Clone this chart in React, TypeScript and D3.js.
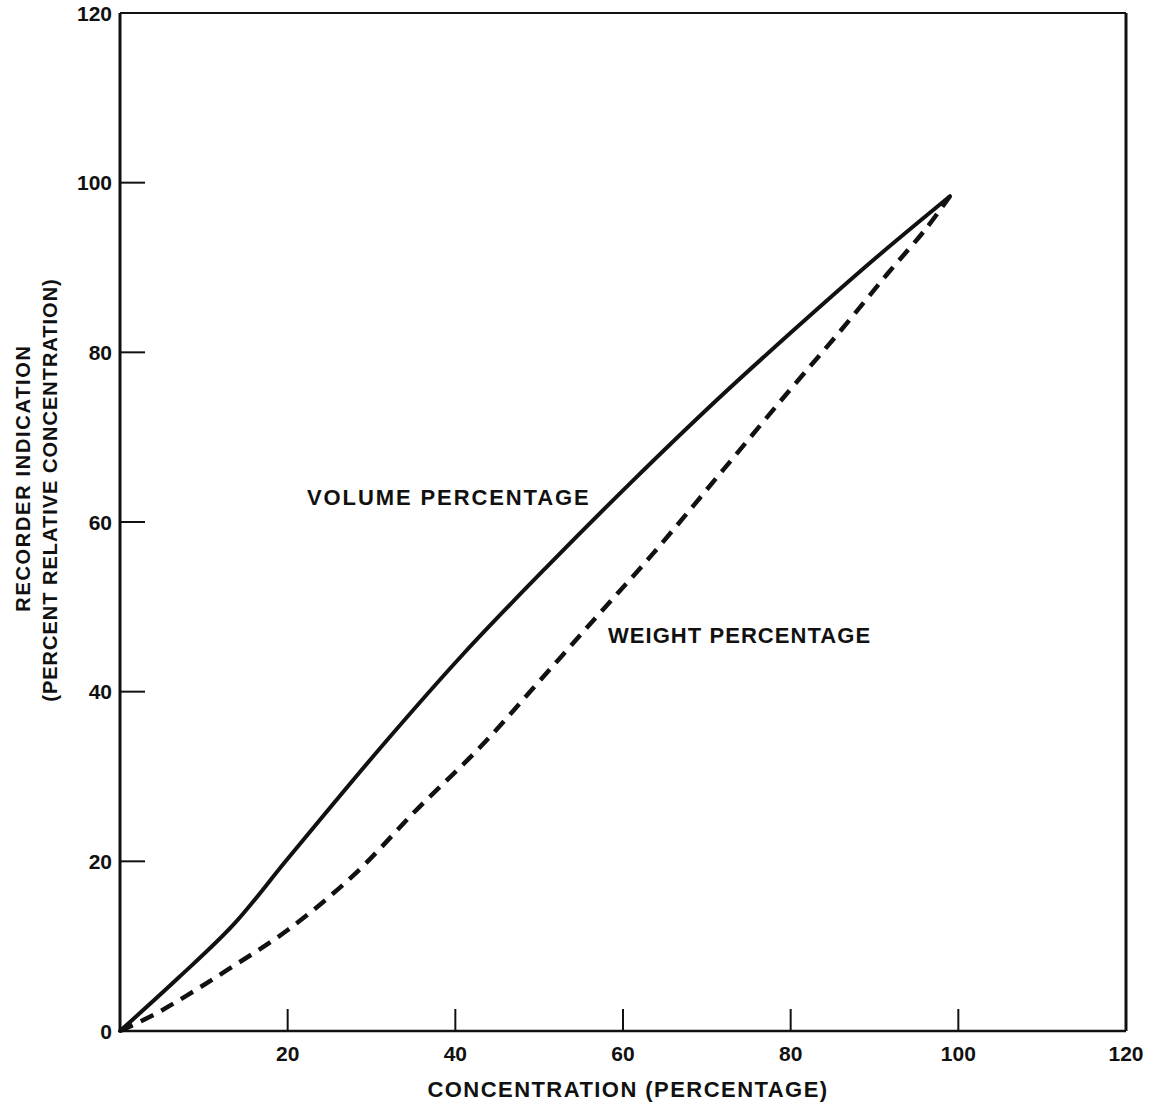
import React from "react";
import * as d3 from "d3";

const volumeX = [0, 7, 13.5, 20, 31, 41, 51, 61, 71, 80, 90, 99];
const volumeY = [0, 6.3, 12.5, 20.3, 33.3, 44.5, 54.8, 64.7, 74.2, 82.3, 91, 98.4];

const weightX = [0, 4, 8, 12.8, 20, 28, 35.4, 43, 50, 57, 63.6, 72, 79.6, 86, 91.5, 96, 99];
const weightY = [0, 1.9, 4.2, 7.2, 11.9, 18.5, 26.1, 33.5, 41.2, 49, 56.3, 66.2, 75.2, 82.6, 89.2, 94.4, 98.4];

const xTicks = [20, 40, 60, 80, 100];
const yTicks = [20, 40, 60, 80, 100];
const xTickLabels = ["20", "40", "60", "80", "100", "120"];
const yTickLabels = ["0", "20", "40", "60", "80", "100", "120"];

const xTitle = "CONCENTRATION (PERCENTAGE)";
const yTitle1 = "RECORDER INDICATION";
const yTitle2 = "(PERCENT RELATIVE CONCENTRATION)";
const volumeLabel = "VOLUME PERCENTAGE";
const weightLabel = "WEIGHT PERCENTAGE";

const W = 1160;
const H = 1103;
const left = 120;
const right = 1126;
const top = 13;
const bottom = 1031;

export default function App() {
  const x = d3.scaleLinear().domain([0, 120]).range([left, right]);
  const y = d3.scaleLinear().domain([0, 120]).range([bottom, top]);

  const line = d3
    .line<[number, number]>()
    .x((d) => x(d[0]))
    .y((d) => y(d[1]))
    .curve(d3.curveCatmullRom.alpha(0.5));

  const volPts: [number, number][] = volumeX.map((v, i) => [v, volumeY[i]]);
  const wtPts: [number, number][] = weightX.map((v, i) => [v, weightY[i]]);

  const font = "'Liberation Sans', Arial, Helvetica, sans-serif";
  const ink = "#111";

  return (
    <svg
      width={W}
      height={H}
      style={{ position: "absolute", left: 0, top: 0, background: "#fff" }}
      fontFamily={font}
    >
      <rect x={0} y={0} width={W} height={H} fill="#fff" />
      {/* frame */}
      <line x1={left} y1={top} x2={left} y2={bottom} stroke={ink} strokeWidth={3} />
      <line x1={left} y1={bottom} x2={right} y2={bottom} stroke={ink} strokeWidth={2.5} />
      <line x1={left} y1={top} x2={right} y2={top} stroke={ink} strokeWidth={2} />
      <line x1={right} y1={top} x2={right} y2={bottom} stroke={ink} strokeWidth={3} />

      {/* ticks */}
      {yTicks.map((t) => (
        <line key={"yt" + t} x1={left} x2={left + 25} y1={y(t)} y2={y(t)} stroke={ink} strokeWidth={2} />
      ))}
      {xTicks.map((t) => (
        <line key={"xt" + t} x1={x(t)} x2={x(t)} y1={bottom} y2={bottom - 22} stroke={ink} strokeWidth={2} />
      ))}

      {/* tick labels */}
      {yTickLabels.map((l) => (
        <text
          key={"yl" + l}
          x={left - 8}
          y={y(+l)}
          dy="0.36em"
          textAnchor="end"
          fontSize={21}
          fontWeight={600}
          fill={ink}
        >
          {l}
        </text>
      ))}
      {xTickLabels.map((l) => (
        <text key={"xl" + l} x={x(+l)} y={1061} textAnchor="middle" fontSize={21} fontWeight={600} fill={ink}>
          {l}
        </text>
      ))}

      {/* axis titles */}
      <text x={628} y={1097} textAnchor="middle" fontSize={22} fontWeight={600} letterSpacing={1.45} fill={ink}>
        {xTitle}
      </text>
      <g transform="translate(30,478) rotate(-90)">
        <text x={0} y={0} textAnchor="middle" fontSize={20} fontWeight={600} letterSpacing={1.7} fill={ink}>
          {yTitle1}
        </text>
      </g>
      <g transform="translate(57,490) rotate(-90)">
        <text x={0} y={0} textAnchor="middle" fontSize={20} fontWeight={600} letterSpacing={1.0} fill={ink}>
          {yTitle2}
        </text>
      </g>

      {/* curves */}
      <path d={line(volPts) || ""} fill="none" stroke={ink} strokeWidth={4} strokeLinejoin="round" strokeLinecap="round" />
      <path d={line(wtPts) || ""} fill="none" stroke={ink} strokeWidth={4.5} strokeDasharray="14 9" />

      {/* curve labels */}
      <text x={307} y={505} fontSize={22} fontWeight={600} letterSpacing={1.9} fill={ink}>
        {volumeLabel}
      </text>
      <text x={608} y={643} fontSize={22} fontWeight={600} letterSpacing={1.05} fill={ink}>
        {weightLabel}
      </text>
    </svg>
  );
}
